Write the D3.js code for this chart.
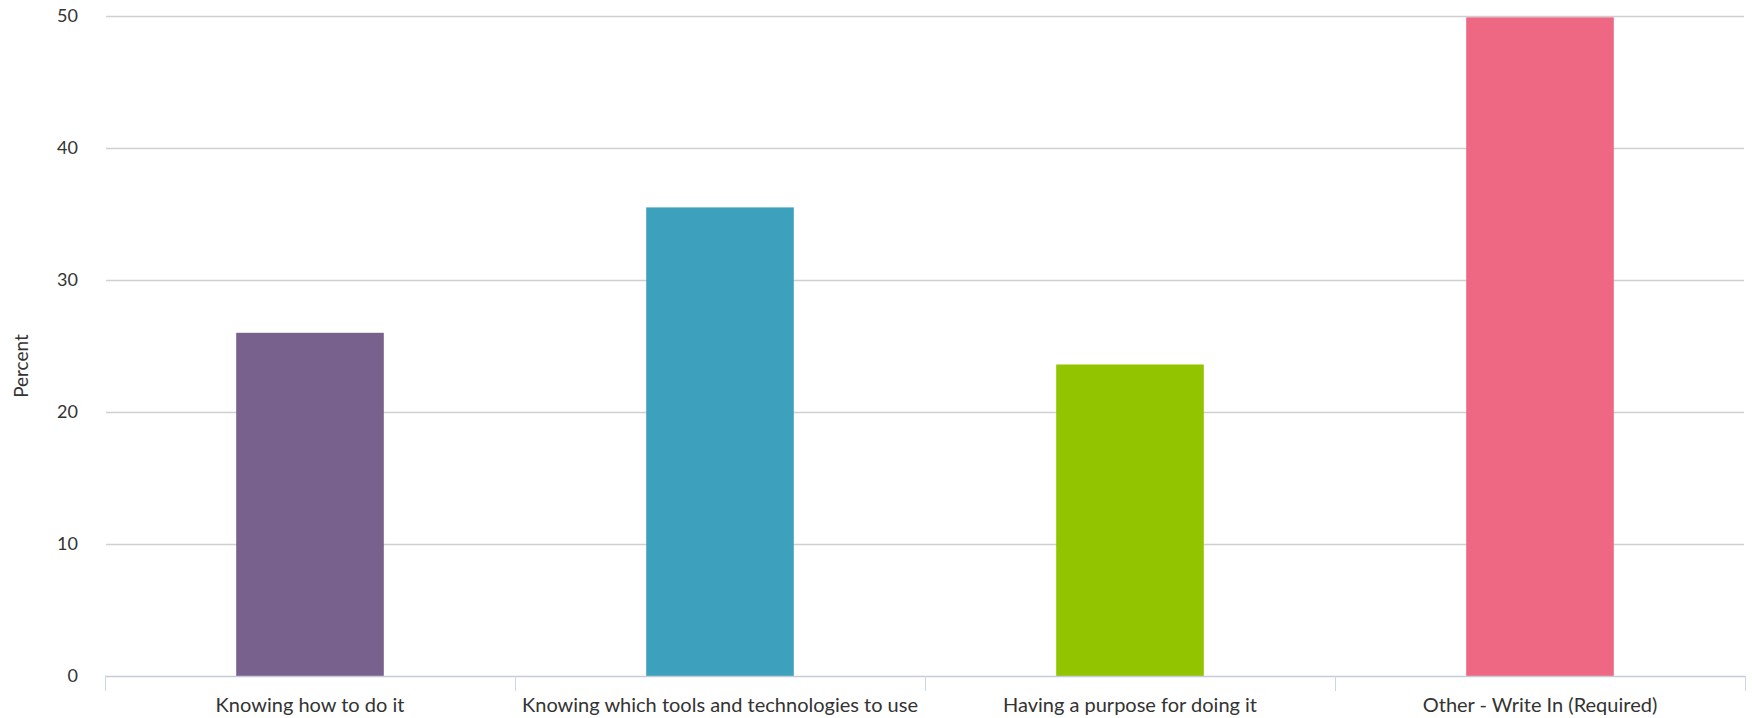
<!DOCTYPE html>
<html>
<head>
<meta charset="utf-8">
<script src="https://cdn.jsdelivr.net/npm/d3@7"></script>
<style>
  body { margin: 0; background: #fff; }
  svg text { font-family: Lato, "Open Sans", sans-serif; fill: #333; }
</style>
</head>
<body>
<div id="chart"></div>
<script>
"use strict";

// === DATA ===
const categories = [
  "Knowing how to do it",
  "Knowing which tools and technologies to use",
  "Having a purpose for doing it",
  "Other - Write In (Required)"
];
const percents = [26.0, 35.5, 23.6, 49.9];
const barColors = ["#78618c", "#3da1be", "#93c400", "#ef6883"];
const yTicks = [0, 10, 20, 30, 40, 50];

// === SVG SETUP ===
const svgWidth = 1752, svgHeight = 718;
const margin = { top: 16, right: 7, bottom: 42, left: 105 };

const svg = d3.select("#chart")
  .append("svg")
  .attr("width", svgWidth)
  .attr("height", svgHeight);

// === SCALES ===
const xScale = d3.scaleBand()
  .domain(categories)
  .range([margin.left, svgWidth - margin.right])
  .paddingInner(0.64)
  .paddingOuter(0.32);

const xBands = d3.scaleBand()
  .domain(categories)
  .range([margin.left, svgWidth - margin.right]);

const yScale = d3.scaleLinear()
  .domain([0, 50])
  .range([svgHeight - margin.bottom, margin.top]);

// === GRIDLINES + Y LABELS ===
svg.append("g")
  .selectAll("line")
  .data(yTicks.filter(d => d > 0))
  .enter()
  .append("line")
  .attr("x1", margin.left + 1)
  .attr("x2", svgWidth - margin.right - 1)
  .attr("y1", d => Math.round(yScale(d)) + 0.5)
  .attr("y2", d => Math.round(yScale(d)) + 0.5)
  .attr("stroke", "#cfcfcf")
  .attr("stroke-width", 1.5);

svg.append("g")
  .selectAll("text")
  .data(yTicks)
  .enter()
  .append("text")
  .attr("x", 78)
  .attr("y", d => yScale(d) + 6)
  .attr("text-anchor", "end")
  .attr("font-size", "18px")
  .text(d => d);

// === BARS ===
svg.append("g")
  .selectAll("rect")
  .data(categories)
  .enter()
  .append("rect")
  .attr("x", d => xScale(d))
  .attr("width", xScale.bandwidth())
  .attr("y", (d, i) => yScale(percents[i]))
  .attr("height", (d, i) => yScale(0) - yScale(percents[i]))
  .attr("fill", (d, i) => barColors[i]);

// === X AXIS ===
const baseY = yScale(0);
svg.append("line")
  .attr("x1", margin.left)
  .attr("x2", svgWidth - margin.right)
  .attr("y1", baseY + 0.5)
  .attr("y2", baseY + 0.5)
  .attr("stroke", "#c6ccd6")
  .attr("stroke-width", 1.5);

const tickXs = categories.map(d => xBands(d)).concat([svgWidth - margin.right]);
svg.append("g")
  .selectAll("line")
  .data(tickXs)
  .enter()
  .append("line")
  .attr("x1", d => Math.round(d) + 0.5)
  .attr("x2", d => Math.round(d) + 0.5)
  .attr("y1", baseY)
  .attr("y2", baseY + 15)
  .attr("stroke", "#ccd6eb")
  .attr("stroke-width", 1);

svg.append("g")
  .selectAll("text")
  .data(categories)
  .enter()
  .append("text")
  .attr("x", d => xBands(d) + xBands.bandwidth() / 2)
  .attr("y", svgHeight - 6)
  .attr("text-anchor", "middle")
  .attr("font-size", "20px")
  .text(d => d);

// === Y AXIS TITLE ===
svg.append("text")
  .attr("transform", "rotate(-90)")
  .attr("x", -366)
  .attr("y", 28)
  .attr("text-anchor", "middle")
  .attr("font-size", "19px")
  .text("Percent");
</script>
</body>
</html>
